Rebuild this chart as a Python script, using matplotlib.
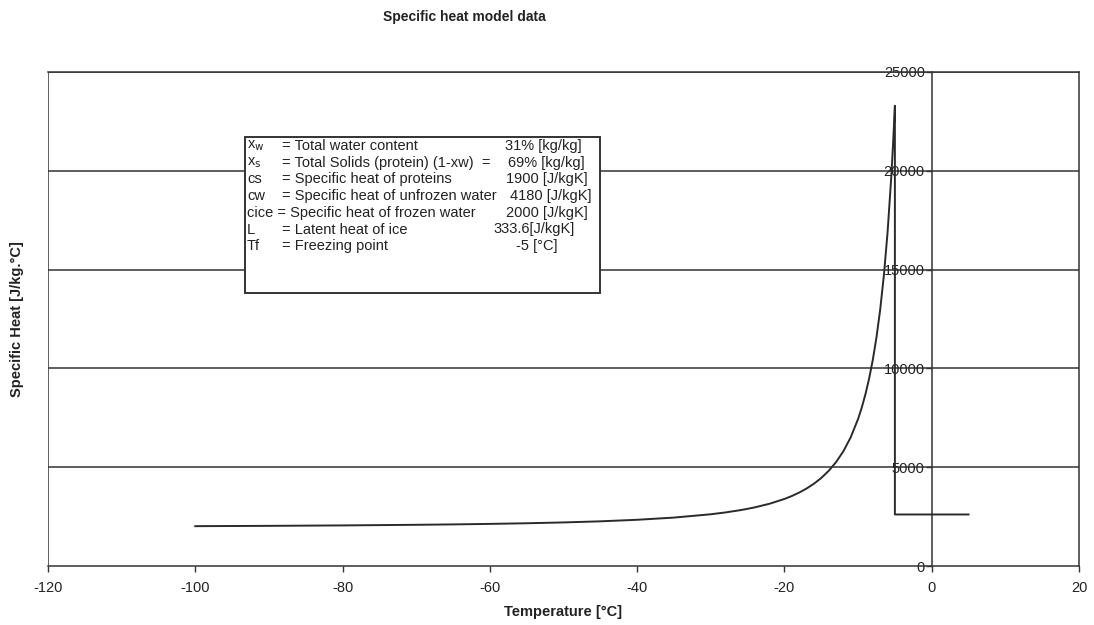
import matplotlib
matplotlib.use('Agg')
import matplotlib.pyplot as plt
import matplotlib.patches as mpatches

plt.rcParams['font.family'] = ['Liberation Sans', 'DejaVu Sans']

# ── model output: apparent specific heat vs temperature ──────────────────────
temp_frozen = [-100, -90, -80, -70, -65, -60, -55, -50, -45, -40, -35, -30,
               -28, -26, -25, -24, -22, -20, -19, -18, -17, -16, -15, -14,
               -13, -12, -11, -10, -9.5, -9, -8.5, -8, -7.5, -7, -6.5, -6,
               -5.5, -5.25, -5]
cp_frozen = [2016, 2032, 2054, 2085, 2105, 2131, 2163, 2205, 2261, 2339, 2450,
             2618, 2711, 2826, 2894, 2970, 3153, 3393, 3541, 3715, 3919, 4162,
             4454, 4811, 5251, 5803, 6512, 7440, 8016, 8690, 9486, 10433,
             11574, 12966, 14689, 16858, 19639, 21335, 23290]
temp_unfrozen = [-5, 5]
cp_unfrozen = [2607, 2607]

x_ticks = [-120, -100, -80, -60, -40, -20, 0, 20]
y_ticks = [0, 5000, 10000, 15000, 20000, 25000]

# parameter box rows
par_symbols = ['x$_\\mathrm{w}$', 'x$_\\mathrm{s}$', 'cs', 'cw', 'cice', 'L', 'Tf']
par_descr = ['= Total water content',
             '= Total Solids (protein) (1-xw)  =',
             '= Specific heat of proteins',
             '= Specific heat of unfrozen water',
             '= Specific heat of frozen water',
             '= Latent heat of ice',
             '= Freezing point']
par_values = ['31% [kg/kg]', '69% [kg/kg]', '1900 [J/kgK]', '4180 [J/kgK]',
              '2000 [J/kgK]', '333.6[J/kgK]', '-5 [°C]']

W, H = 1094, 625
LINE = '#333333'
TXT = '#222222'
FS = 10.5


def fx(px):
    return px / W


def fy(py):
    return 1 - py / H


fig = plt.figure(figsize=(W / 100, H / 100), dpi=100, facecolor='white')
ax = fig.add_axes([fx(48), fy(566), fx(1079) - fx(48), fy(72) - fy(566)])

ax.set_xlim(-120, 20)
ax.set_ylim(0, 25000)

# horizontal grid
for yv in y_ticks[1:]:
    ax.axhline(yv, color=LINE, lw=1.1, zorder=1)

# curve
ax.plot(temp_frozen + temp_unfrozen, cp_frozen + cp_unfrozen,
        color='#2a2a2a', lw=1.4, zorder=4)

# y axis crosses at 0, plot area keeps its frame
ax.spines['left'].set_position(('data', 0))
ax.axvline(-120, color=LINE, lw=1.1, zorder=2)
for s in ax.spines.values():
    s.set_color(LINE)
    s.set_linewidth(1.1)

ax.set_xticks(x_ticks)
ax.set_yticks(y_ticks)
ax.set_xticklabels([str(v) for v in x_ticks])
ax.set_yticklabels([str(v) for v in y_ticks])
ax.tick_params(axis='x', direction='out', length=4, width=1, pad=7,
               labelsize=FS, colors=LINE, labelcolor=TXT)
ax.tick_params(axis='y', direction='out', length=4, width=1, pad=1,
               labelsize=FS, colors=LINE, labelcolor=TXT)

# titles
fig.text(fx(464), fy(17), 'Specific heat model data', ha='center', va='center',
         fontsize=10, fontweight='bold', color=TXT)
fig.text(fx(563), fy(612), 'Temperature [°C]', ha='center', va='center',
         fontsize=10.5, fontweight='bold', color=TXT)
fig.text(fx(17), fy(319), 'Specific Heat [J/kg.°C]', ha='center', va='center',
         rotation=90, fontsize=10.5, fontweight='bold', color=TXT)

# parameter box
box = mpatches.Rectangle((fx(245), fy(293)), fx(600) - fx(245), fy(137) - fy(293),
                         transform=fig.transFigure, facecolor='white',
                         edgecolor=LINE, lw=1.4, zorder=5)
ax.add_patch(box)

row_y = [146, 162.7, 179.4, 196.1, 212.8, 229.5, 246.2]
value_right = [582, 585, 588, 592, 588, 575, 557]
for sym, desc, val, py, vx in zip(par_symbols, par_descr, par_values, row_y, value_right):
    if sym == 'cice':
        fig.text(fx(247), fy(py), f'{sym} {desc}', ha='left', va='center',
                 fontsize=FS, color=TXT, zorder=6)
    else:
        fig.text(fx(247), fy(py), sym, ha='left', va='center',
                 fontsize=FS, color=TXT, zorder=6)
        fig.text(fx(282), fy(py), desc, ha='left', va='center',
                 fontsize=FS, color=TXT, zorder=6)
    fig.text(fx(vx), fy(py), val, ha='right', va='center',
             fontsize=FS, color=TXT, zorder=6)

fig.savefig('out.png', dpi=100, facecolor='white')
